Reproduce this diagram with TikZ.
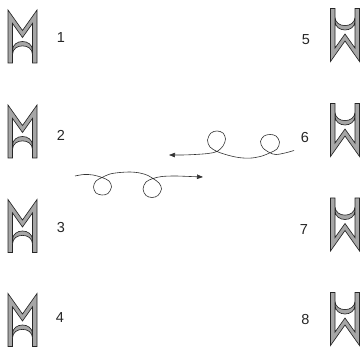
\documentclass[tikz,border=0pt]{standalone}
\usepackage{fontspec}
\setmainfont{Liberation Sans}
\usetikzlibrary{arrows.meta}
\tikzset{
  bandstyle/.style={fill=black!35,draw=black!85,line width=0.65pt,line join=miter,even odd rule},
  lbl/.style={font=\fontsize{14.5}{17}\selectfont,inner sep=0pt,text=black!85},
  curl/.style={draw=black!80,line width=0.6pt,-{Triangle[length=6pt,width=4.5pt]}},
  seal/.pic={
    \path[bandstyle]
      (-14.5,26.5) -- (-14.5,-26.5) -- (0,-6) -- (14.5,-26.5) -- (14.5,26.5) -- (10,26.5) -- (10,18)
      .. controls (10,6.5) and (-10,6.5) .. (-10,18) -- (-10,26.5) -- cycle
      (-10,-13.1) -- (0,1) -- (10,-13.1) -- (10,14)
      .. controls (10,2) and (-10,2) .. (-10,14) -- cycle;
  }
}
\begin{document}
\begin{tikzpicture}[x=1pt,y=-1pt]
\useasboundingbox (0,0) rectangle (361,347);
% left seals
\pic (s1) at (22.5,36.5) {seal};
\pic (s2) at (22.5,131.5) {seal};
\pic (s3) at (22.5,226) {seal};
\pic (s4) at (22.5,320) {seal};
% right seals (turned over)
\pic[rotate=180] (s5) at (345,35) {seal};
\pic[rotate=180] (s6) at (345,130) {seal};
\pic[rotate=180] (s7) at (345,224.5) {seal};
\pic[rotate=180] (s8) at (345,319) {seal};
% labels
\node[lbl] (l1) at (61,37.5) {1};
\node[lbl] (l2) at (61,135) {2};
\node[lbl] (l3) at (61,228) {3};
\node[lbl] (l4) at (60,318) {4};
\node[lbl] (l5) at (306,40) {5};
\node[lbl] (l6) at (305,138) {6};
\node[lbl] (l7) at (304,230) {7};
\node[lbl] (l8) at (305.5,320) {8};
% upper curl line, arrow to the left
\draw[curl] plot[smooth,tension=0.55] coordinates {
  (294,150.5) (285,153) (276,154.5) (270,152.8) (263,148) (260.5,141.5) (264,136)
  (270,134.5) (276,136) (279.5,142) (277,149) (270,152.8) (262,156) (252,158)
  (243,158) (233,156.5) (224,154) (217,151.5) (210,147) (207.5,140) (211,133)
  (217,131) (223,133) (225.5,139) (223,146) (217,151.5) (208,153.5) (195,154.5)
  (182,155) (169,155)};
% lower curl line, arrow to the right
\draw[curl] plot[smooth,tension=0.55] coordinates {
  (75,176) (84,174.5) (93,175) (102,177.5) (109,181) (111.5,187) (108,193.5)
  (102,195) (96,193) (93.5,187) (96,181) (102,177.5) (110,174) (120,172.5)
  (130,172) (140,173) (148,175.5) (153,178.5) (159,183) (161.5,189) (158,195.5)
  (152,197.5) (146,195.5) (143,189) (146,182) (153,178.5) (162,176.5) (175,176)
  (190,176.5) (203,177)};
\end{tikzpicture}
\end{document}
